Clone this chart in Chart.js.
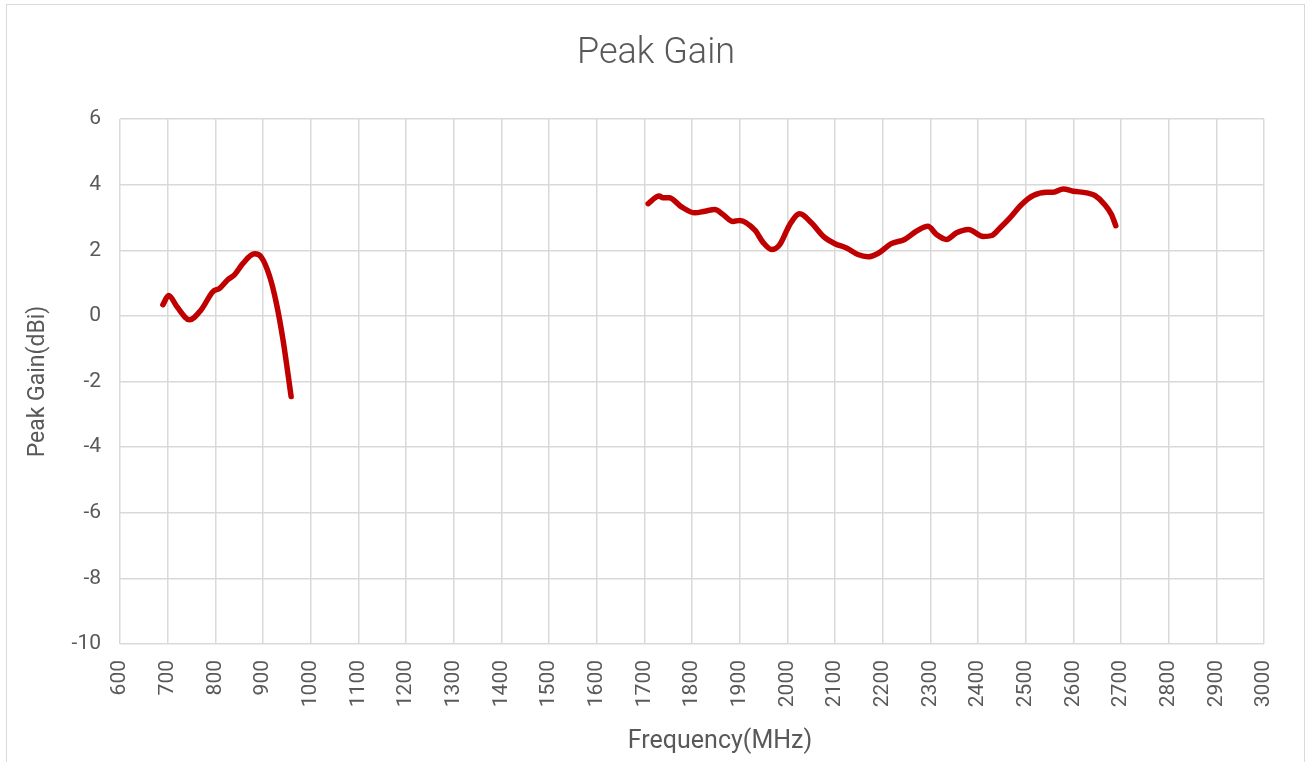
<!DOCTYPE html>
<html>
<head>
<meta charset="utf-8">
<script src="https://cdn.jsdelivr.net/npm/chart.js@4"></script>
<style>
  html, body { margin: 0; padding: 0; background: #fff; overflow: hidden; }
  #frame { position: absolute; left: 6px; top: 4px; width: 1299px; height: 800px; border: 1px solid #d9d9d9; box-sizing: border-box; }
  #wrap { position: absolute; left: 0; top: 0; width: 1308px; height: 762px; }
</style>
</head>
<body>
<div id="frame"></div>
<div id="wrap"><canvas id="c" width="1308" height="762"></canvas></div>
<script>
const chartTitle = "Peak Gain";
const xTitle = "Frequency(MHz)";
const yTitle = "Peak Gain(dBi)";

const lowFreq = [690, 702, 720, 746, 770, 795, 809, 826, 840, 858, 882, 896, 914, 928, 942, 959];
const lowGain = [0.34, 0.62, 0.27, -0.12, 0.18, 0.74, 0.84, 1.1, 1.25, 1.6, 1.89, 1.8, 1.2, 0.39, -0.73, -2.46];

const highFreq = [1708, 1731, 1739, 1752, 1778, 1806, 1827, 1848, 1865, 1886, 1900, 1932, 1949, 1967, 1984, 2005, 2026, 2051, 2075, 2100, 2124, 2148, 2169, 2190, 2218, 2246, 2271, 2295, 2313, 2334, 2355, 2380, 2411, 2429, 2446, 2467, 2491, 2516, 2544, 2558, 2579, 2600, 2628, 2645, 2666, 2680, 2689];
const highGain = [3.42, 3.65, 3.6, 3.6, 3.32, 3.14, 3.19, 3.24, 3.09, 2.88, 2.91, 2.61, 2.24, 2.02, 2.17, 2.78, 3.11, 2.83, 2.43, 2.2, 2.07, 1.87, 1.8, 1.9, 2.2, 2.33, 2.58, 2.73, 2.48, 2.33, 2.53, 2.63, 2.42, 2.45, 2.68, 2.99, 3.39, 3.67, 3.77, 3.77, 3.87, 3.8, 3.75, 3.67, 3.39, 3.09, 2.75];

const xMin = 600, xMax = 3000, xStep = 100;
const yMin = -10, yMax = 6, yStep = 2;

const toPts = (xs, ys) => xs.map((x, i) => ({ x: x, y: ys[i] }));

const textColor = '#595959';
const gridColor = '#d9d9d9';
const lineColor = '#c00000';
const fam = 'Roboto, "Noto Sans", sans-serif';

const xTitlePlugin = {
  id: 'xTitlePlugin',
  afterDraw(chart) {
    const ctx = chart.ctx;
    ctx.save();
    ctx.fillStyle = textColor;
    ctx.font = '25px ' + fam;
    ctx.textAlign = 'center';
    ctx.textBaseline = 'middle';
    ctx.fillText(xTitle, 720, 742);
    ctx.restore();
  }
};

new Chart(document.getElementById('c'), {
  type: 'line',
  data: {
    datasets: [
      { data: toPts(lowFreq, lowGain), borderColor: lineColor, borderWidth: 5.5, pointRadius: 0, cubicInterpolationMode: 'monotone', borderCapStyle: 'round', borderJoinStyle: 'round' },
      { data: toPts(highFreq, highGain), borderColor: lineColor, borderWidth: 5.5, pointRadius: 0, cubicInterpolationMode: 'monotone', borderCapStyle: 'round', borderJoinStyle: 'round' }
    ]
  },
  plugins: [xTitlePlugin],
  options: {
    responsive: false,
    animation: false,
    events: [],
    layout: { padding: { left: 4, right: 0, top: 0, bottom: 0 } },
    plugins: {
      legend: { display: false },
      tooltip: { enabled: false },
      title: {
        display: true,
        text: chartTitle,
        color: textColor,
        font: { family: fam, size: 36, weight: '300', lineHeight: 1.2 },
        padding: { top: 32, bottom: 43.8 }
      }
    },
    scales: {
      x: {
        type: 'linear',
        min: xMin, max: xMax,
        afterFit: (s) => { s.height = 118; },
        afterBuildTicks: (s) => { const t = []; for (let v = xMin; v <= xMax; v += xStep) t.push({ value: v }); s.ticks = t; },
        ticks: { stepSize: xStep, color: textColor, font: { family: fam, size: 21 }, minRotation: 90, maxRotation: 90, padding: 16, autoSkip: false, callback: (v) => String(v) },
        grid: { color: gridColor, lineWidth: 1.5, drawTicks: false },
        border: { display: false },
        title: { display: false }
      },
      y: {
        type: 'linear',
        min: yMin, max: yMax,
        afterFit: (s) => { s.width = 116; },
        ticks: { stepSize: yStep, color: textColor, font: { family: fam, size: 21 }, padding: 19 },
        grid: { color: gridColor, lineWidth: 1.5, drawTicks: false },
        border: { display: false },
        title: { display: true, text: yTitle, color: textColor, font: { family: fam, size: 23, lineHeight: 1.2 }, padding: { top: 20, bottom: 0 } }
      },
      yRight: {
        type: 'linear',
        position: 'right',
        min: yMin, max: yMax,
        afterFit: (s) => { s.width = 44; },
        ticks: { display: false },
        grid: { display: false, drawTicks: false },
        border: { display: false }
      }
    }
  }
});
</script>
</body>
</html>
